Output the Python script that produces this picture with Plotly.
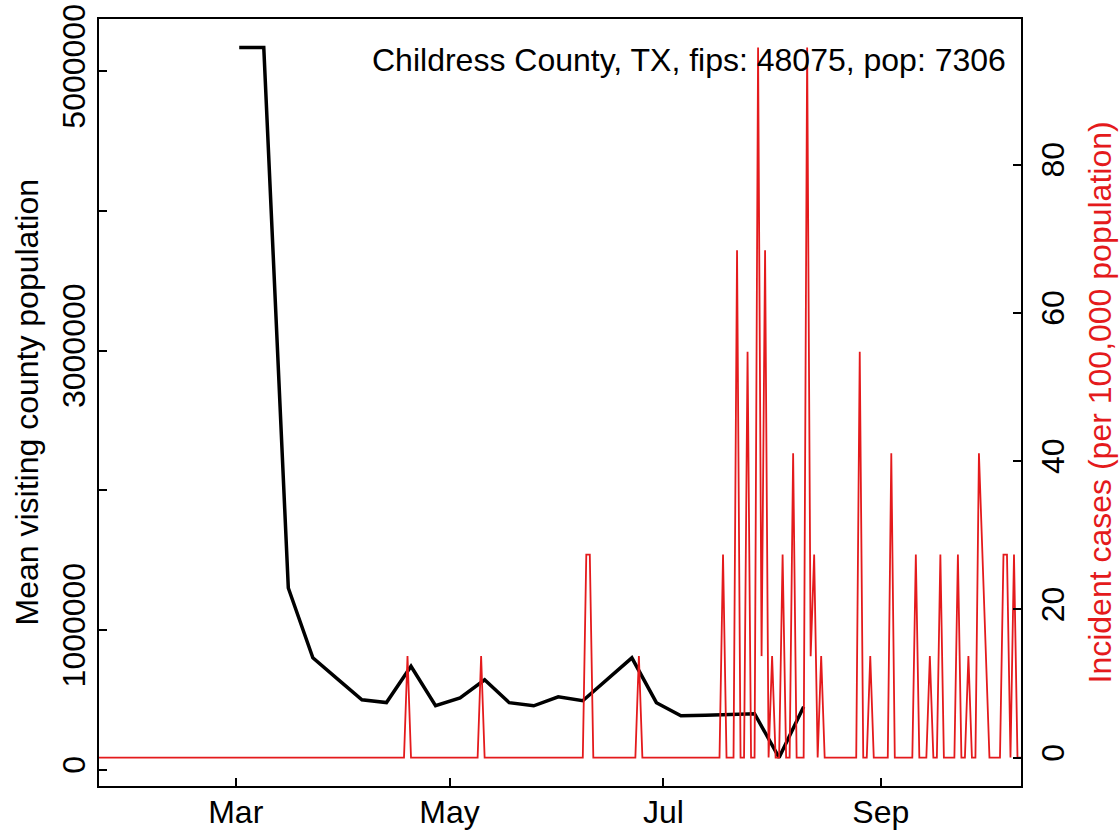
import pandas as pd
import plotly.graph_objects as go

# ---------------- data ----------------
# weekly mean visiting county population (Mondays)
visit_dates = ["2020-03-02", "2020-03-09", "2020-03-16", "2020-03-23", "2020-03-30",
               "2020-04-06", "2020-04-13", "2020-04-20", "2020-04-27", "2020-05-04",
               "2020-05-11", "2020-05-18", "2020-05-25", "2020-06-01", "2020-06-08",
               "2020-06-15", "2020-06-22", "2020-06-29", "2020-07-06", "2020-07-13",
               "2020-07-20", "2020-07-27", "2020-08-03", "2020-08-10"]
visit_pop = [5170000, 5170000, 1300000, 800000, 650000,
             500000, 480000, 740000, 457000, 514000,
             643000, 479000, 457000, 521000, 493000,
             650000, 800000, 479000, 386000, 389000,
             393000, 400000, 86000, 450000]

# daily incident cases per 100,000 population, 2020-01-22 .. 2020-10-11
cases_start = "2020-01-22"
cases_jan = [0, 0, 0, 0, 0, 0, 0, 0, 0, 0]
cases_feb = [0, 0, 0, 0, 0, 0, 0, 0, 0, 0,
             0, 0, 0, 0, 0, 0, 0, 0, 0, 0,
             0, 0, 0, 0, 0, 0, 0, 0, 0]
cases_mar = [0, 0, 0, 0, 0, 0, 0, 0, 0, 0,
             0, 0, 0, 0, 0, 0, 0, 0, 0, 0,
             0, 0, 0, 0, 0, 0, 0, 0, 0, 0, 0]
cases_apr = [0, 0, 0, 0, 0, 0, 0, 0, 0, 0,
             0, 0, 0, 0, 0, 0, 0, 0, 13.69, 0,
             0, 0, 0, 0, 0, 0, 0, 0, 0, 0]
cases_may = [0, 0, 0, 0, 0, 0, 0, 0, 0, 13.69,
             0, 0, 0, 0, 0, 0, 0, 0, 0, 0,
             0, 0, 0, 0, 0, 0, 0, 0, 0, 0, 0]
cases_jun = [0, 0, 0, 0, 0, 0, 0, 0, 27.38, 27.38,
             0, 0, 0, 0, 0, 0, 0, 0, 0, 0,
             0, 0, 0, 13.69, 0, 0, 0, 0, 0, 0]
cases_jul = [0, 0, 0, 0, 0, 0, 0, 0, 0, 0,
             0, 0, 0, 0, 0, 0, 0, 27.38, 0, 0,
             0, 68.44, 0, 0, 54.75, 0, 0, 95.81, 13.69, 68.44, 0]
cases_aug = [13.69, 0, 0, 27.38, 0, 0, 41.06, 0, 0, 0,
             95.81, 13.69, 27.38, 0, 13.69, 0, 0, 0, 0, 0,
             0, 0, 0, 0, 0, 54.75, 0, 0, 13.69, 0, 0]
cases_sep = [0, 0, 0, 41.06, 0, 0, 0, 0, 0, 0,
             27.38, 0, 0, 0, 13.69, 0, 0, 27.38, 0, 0,
             0, 0, 27.38, 0, 0, 13.69, 0, 0, 41.06, 27.38]
cases_oct = [13.69, 0, 0, 0, 0, 27.38, 27.38, 0, 27.38, 0, 0]

month_ticks = ["2020-03-01", "2020-05-01", "2020-07-01", "2020-09-01"]
month_labels = ["Mar", "May", "Jul", "Sep"]
left_tickvals = [0, 1000000, 2000000, 3000000, 4000000, 5000000]
left_ticktext = ["0", "1000000", "", "3000000", "", "5000000"]
right_tickvals = [0, 20, 40, 60, 80]

title_text = "Childress County, TX, fips: 48075, pop: 7306"
left_title = "Mean visiting county population"
right_title = "Incident cases (per 100,000 population)"

# ---------------- build ----------------
cases = (cases_jan + cases_feb + cases_mar + cases_apr + cases_may +
         cases_jun + cases_jul + cases_aug + cases_sep + cases_oct)
case_dates = pd.date_range(cases_start, periods=len(cases), freq="D")

RED = "#E41A1C"
FONT = "Liberation Sans, Arial, Helvetica, sans-serif"
FS = 32


def r_range(vals):
    lo, hi = min(vals), max(vals)
    pad = 0.04 * (hi - lo)
    return [lo - pad, hi + pad]


fig = go.Figure()
fig.add_trace(go.Scatter(x=pd.to_datetime(visit_dates), y=visit_pop, mode="lines",
                         line=dict(color="black", width=3.5), yaxis="y",
                         showlegend=False))
fig.add_trace(go.Scatter(x=case_dates, y=cases, mode="lines",
                         line=dict(color=RED, width=1.8), yaxis="y2",
                         showlegend=False))

axis_common = dict(showgrid=False, zeroline=False, showline=True, linecolor="black",
                   linewidth=2, ticks="inside", ticklen=8, tickwidth=2, automargin=False,
                   tickcolor="black", tickfont=dict(family=FONT, size=FS, color="black"))

fig.update_layout(
    width=1119, height=830,
    margin=dict(l=99, r=98, t=19, b=44),
    paper_bgcolor="white", plot_bgcolor="white",
    font=dict(family=FONT, size=FS, color="black"),
    xaxis=dict(range=[case_dates[0], case_dates[-1]], tickvals=pd.to_datetime(month_ticks),
               ticktext=month_labels, mirror=True, ticklabelstandoff=-3, **axis_common),
    yaxis=dict(range=r_range(visit_pop), tickvals=left_tickvals, ticktext=left_ticktext,
               tickangle=-90, mirror=True, ticklabelstandoff=-1, **axis_common),
    yaxis2=dict(range=r_range(cases), tickvals=right_tickvals, overlaying="y",
                side="right", tickangle=-90, ticklabelstandoff=3, **axis_common),
    annotations=[
        dict(text=title_text, xref="paper", yref="paper", x=(1008 - 99) / 922,
             y=(786 - 60) / 767, xanchor="right", yanchor="middle", showarrow=False,
             font=dict(family=FONT, size=FS, color="black")),
        dict(text=left_title, xref="paper", yref="paper", x=(26 - 99) / 922, y=0.5,
             xanchor="center", yanchor="middle", textangle=-90, showarrow=False,
             font=dict(family=FONT, size=FS, color="black")),
        dict(text=right_title, xref="paper", yref="paper", x=(1099 - 99) / 922, y=0.5,
             xanchor="center", yanchor="middle", textangle=-90, showarrow=False,
             font=dict(family=FONT, size=FS, color=RED)),
    ],
)

fig.write_html("out.html", config={"displayModeBar": False},
               post_script="document.body.style.margin='0px';")
